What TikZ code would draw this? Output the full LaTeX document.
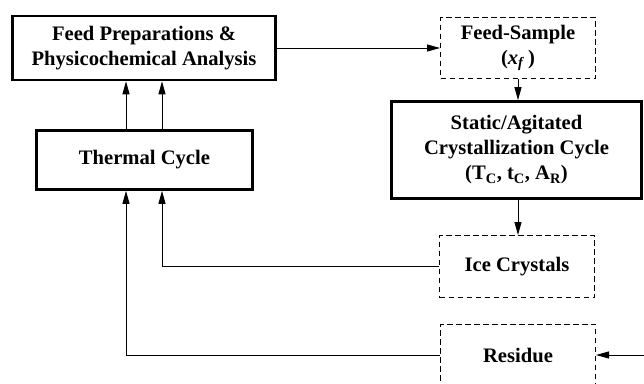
\documentclass[tikz,border=0pt]{standalone}
\usepackage{fontspec}
\setmainfont{Liberation Serif}
\usetikzlibrary{arrows.meta}

\begin{document}
\begin{tikzpicture}[x=1pt, y=-1pt,
	font=\fontsize{20.6}{25}\selectfont\bfseries,
	mainbox/.style={draw, line width=2.6pt, align=center, inner sep=0pt},
	dashbox/.style={draw, dash pattern=on 5.5pt off 3.5pt, line width=1pt, align=center, inner sep=0pt},
	flow/.style={line width=0.9pt, -{Triangle[length=13pt, width=7pt]}}]
	\useasboundingbox (0,0) rectangle (644,383);
	\node[mainbox, minimum width=263pt, minimum height=64pt] (prep) at (144,48) {Feed Preparations \&\\Physicochemical Analysis};
	\node[dashbox, minimum width=155pt, minimum height=61pt] (sample) at (518,48) {Feed-Sample\\(\textit{x}\textsubscript{\textit{f}}\,)};
	\node[mainbox, minimum width=250pt, minimum height=97pt] (cryst) at (516.5,150) {Static/Agitated\\Crystallization Cycle\\(T\textsubscript{C}, t\textsubscript{C}, A\textsubscript{R})};
	\node[mainbox, minimum width=216pt, minimum height=59pt] (thermal) at (144.5,160) {Thermal Cycle};
	\node[dashbox, minimum width=155pt, minimum height=62pt] (ice) at (517,266.5) {Ice Crystals};
	\node[dashbox, minimum width=155pt, minimum height=62pt] (residue) at (518,355) {Residue};
	\coordinate (left) at (126,0);
	\coordinate (right) at (162,0);
	\coordinate (feed) at (650,355);
	\draw[flow] (prep.east) -- (sample.west);
	\draw[flow] (sample.south) -- (sample.south |- cryst.north);
	\draw[flow] (cryst.south -| sample.south) -- (ice.north -| sample.south);
	\draw[flow] (thermal.north -| left) -- (prep.south -| left);
	\draw[flow] (thermal.north -| right) -- (prep.south -| right);
	\draw[flow] (ice.west) -| (thermal.south -| right);
	\draw[flow] (residue.west) -| (thermal.south -| left);
	\draw[flow] (feed) -- (residue.east);
\end{tikzpicture}
\end{document}
